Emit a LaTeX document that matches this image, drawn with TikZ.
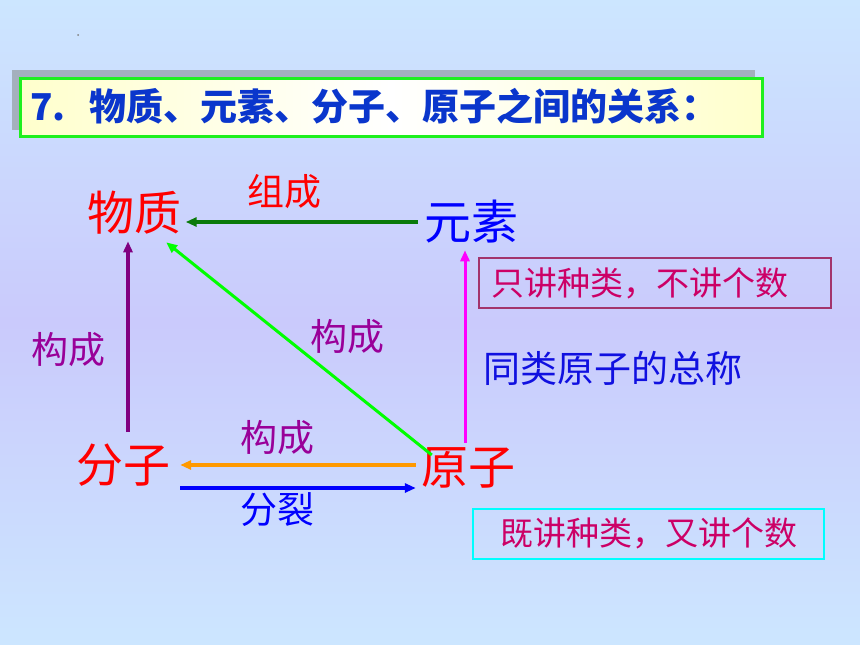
\documentclass[tikz,border=0pt]{standalone}
\usepackage{fontspec}
\setmainfont{Noto Sans CJK SC}
\usetikzlibrary{arrows.meta,calc}
\definecolor{bgtop}{HTML}{CCE6FF}
\definecolor{bgmid}{HTML}{CACAFC}
\definecolor{titleblue}{HTML}{0A36CC}
\definecolor{shadowgray}{HTML}{A4B0BD}
\definecolor{titlegreen}{HTML}{1EF01E}
\definecolor{pale}{HTML}{FFFFCC}
\definecolor{purp}{HTML}{990099}
\definecolor{purparrow}{HTML}{800080}
\definecolor{dgreen}{HTML}{0A7A0A}
\definecolor{bgreen}{HTML}{00FF00}
\definecolor{mag}{HTML}{FF00FF}
\definecolor{orng}{HTML}{FF9900}
\definecolor{crim}{HTML}{CC0066}
\definecolor{maroonbox}{HTML}{A3346C}
\definecolor{cyanbox}{HTML}{00FFFF}
\definecolor{txtblue}{HTML}{1010E0}
\tikzset{
  big/.style={inner sep=0pt, font=\fontsize{47}{47}\selectfont},
  lab/.style={inner sep=0pt, font=\fontsize{37}{37}\selectfont},
  boxtxt/.style={draw, line width=2pt, font=\fontsize{33}{33}\selectfont, text=crim, minimum height=50pt, inner ysep=0pt},
  arr/.style={line width=3.5pt, -{Triangle[length=11pt,width=9pt]}},
}
\begin{document}
\begin{tikzpicture}[x=1pt,y=-1pt]
\useasboundingbox (0,0) rectangle (860,645);
\shade[top color=bgtop, bottom color=bgtop, middle color=bgmid] (0,0) rectangle (860,645);
\fill[gray] (78,35) circle (1);
% title
\fill[shadowgray] (12,70) rectangle (755,130);
\shade[left color=pale, right color=pale, middle color=white] (20,78) rectangle (762,136);
\draw[titlegreen, line width=3pt] (20,78) rectangle (762,136);
\node[anchor=west, inner sep=0pt, text=titleblue, font=\fontsize{37}{37}\selectfont\bfseries] (title) at (30,106) {7.\hspace{24pt}物质、元素、分子、原子之间的关系：};
% main nodes
\node[big, text=red] (wuzhi) at (134,213) {物质};
\node[big, text=blue] (yuansu) at (471,222) {元素};
\node[big, text=red] (fenzi) at (123,465) {分子};
\node[big, text=red] (yuanzi) at (468,468) {原子};
% labels
\node[lab, text=red] (l1) at (284,192) {组成};
\node[lab, text=purp] (l2) at (68,350) {构成};
\node[lab, text=purp] (l3) at (347,337) {构成};
\node[lab, text=purp] (l4) at (277,438) {构成};
\node[lab, text=blue] (l5) at (277,510) {分裂};
\node[lab, text=txtblue] (l6) at (613,368) {同类原子的总称};
% boxes
\node[boxtxt, draw=maroonbox, minimum width=352pt, text width=328pt, align=left, inner xsep=12pt] (b1) at (655,283) {只讲种类，不讲个数};
\node[boxtxt, draw=cyanbox, minimum width=351pt] (b2) at (648.5,533.5) {既讲种类，又讲个数};
% arrows
\draw[arr, dgreen, shorten <=6pt, shorten >=4.5pt] (yuansu.west) -- (yuansu.west -| wuzhi.east);
\draw[arr, purparrow, shorten <=11.5pt, shorten >=6.5pt] ([xshift=5pt]fenzi.north) -- ([xshift=-6pt]wuzhi.south);
\draw[arr, bgreen, line width=3pt] ([shift={(11pt,-7.5pt)}]yuanzi.north west) -- ([shift={(-15pt,-7.5pt)}]wuzhi.south east);
\draw[arr, mag, line width=3pt, shorten <=4.5pt, shorten >=6.5pt] ([xshift=-3pt]yuanzi.north) -- ([xshift=-6pt]yuansu.south);
\draw[arr, orng, shorten <=5pt, shorten >=10pt] (yuanzi.west |- fenzi.east) -- (fenzi.east);
\draw[arr, blue, shorten <=10pt, shorten >=5pt] ([yshift=-23pt]fenzi.east) -- ([yshift=-23pt]fenzi.east -| yuanzi.west);
\end{tikzpicture}
\end{document}
